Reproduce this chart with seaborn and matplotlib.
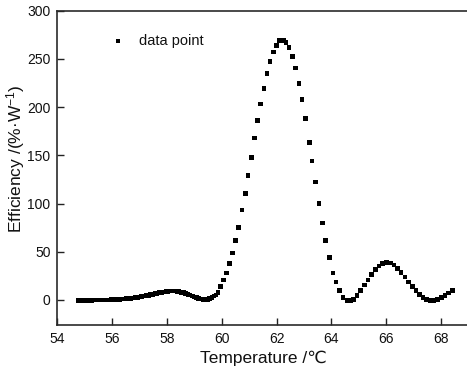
import matplotlib
matplotlib.use("Agg")
import matplotlib.pyplot as plt
import seaborn as sns
import pandas as pd

temperature = [
    54.76, 54.84, 54.92, 55.00, 55.08, 55.16, 55.24, 55.32, 55.40, 55.48,
    55.56, 55.64, 55.72, 55.80, 55.88, 55.96, 56.04, 56.12, 56.20, 56.28,
    56.36, 56.44, 56.52, 56.60, 56.68, 56.76, 56.84, 56.92, 57.00, 57.08,
    57.16, 57.24, 57.32, 57.40, 57.48, 57.56, 57.64, 57.72, 57.80, 57.88,
    57.96, 58.04, 58.12, 58.20, 58.28, 58.36, 58.44, 58.52, 58.60, 58.68,
    58.76, 58.84, 58.92, 59.00, 59.08, 59.16, 59.24, 59.32, 59.40, 59.48,
    59.56, 59.64, 59.72, 59.79, 59.86, 59.96, 60.07, 60.18, 60.28, 60.39,
    60.51, 60.62, 60.74, 60.86, 60.96, 61.08, 61.19, 61.30, 61.42, 61.54,
    61.65, 61.76, 61.88, 61.99, 62.10, 62.20, 62.27, 62.34, 62.45, 62.59,
    62.68, 62.82, 62.93, 63.05, 63.19, 63.29, 63.42, 63.55, 63.67, 63.78,
    63.92, 64.06, 64.17, 64.30, 64.43, 64.57, 64.70, 64.80, 64.93, 65.07,
    65.20, 65.34, 65.47, 65.60, 65.74, 65.87, 66.02, 66.15, 66.28, 66.41,
    66.54, 66.68, 66.82, 66.95, 67.09, 67.22, 67.35, 67.48, 67.61, 67.74,
    67.88, 68.01, 68.15, 68.28, 68.41,
]
efficiency = [
    -0.5, -0.5, -0.5, -0.4, -0.4, -0.3, -0.3, -0.2, -0.2, -0.1,
    -0.1, 0.0, 0.0, 0.1, 0.1, 0.2, 0.3, 0.4, 0.5, 0.6,
    0.8, 1.0, 1.2, 1.4, 1.7, 2.0, 2.3, 2.7, 3.1, 3.5,
    3.9, 4.4, 4.9, 5.4, 5.9, 6.4, 6.9, 7.4, 7.8, 8.2,
    8.6, 8.9, 9.1, 9.2, 9.1, 8.9, 8.5, 8.0, 7.4, 6.7,
    5.9, 5.0, 4.1, 3.2, 2.3, 1.5, 0.8, 0.3, 0.1, 0.4,
    1.2, 2.4, 3.9, 5.2, 8.0, 13.9, 20.8, 27.8, 38.0, 48.8,
    61.5, 75.3, 93.4, 110.4, 128.9, 147.6, 167.9, 186.1, 203.4, 219.5,
    234.7, 247.6, 257.3, 263.9, 268.8, 269.8, 269.1, 267.0, 261.8, 252.8,
    240.6, 224.7, 207.6, 188.2, 163.2, 144.1, 122.4, 100.3, 79.7, 61.5,
    44.0, 28.1, 18.8, 9.9, 2.8, -0.3, -0.5, 0.7, 4.9, 9.7,
    15.3, 20.8, 26.4, 31.3, 35.4, 37.5, 38.9, 38.2, 36.1, 32.6,
    28.4, 23.6, 18.8, 13.9, 9.7, 5.5, 2.8, 0.7, -0.3, -0.3,
    0.7, 2.8, 4.9, 7.0, 9.7,
]
x_ticks = [54, 56, 58, 60, 62, 64, 66, 68]
y_ticks = [0, 50, 100, 150, 200, 250, 300]

sns.set_theme(style="white")
plt.rcParams['font.family'] = ['Liberation Sans', 'DejaVu Sans']
plt.rcParams['mathtext.fontset'] = 'custom'
plt.rcParams['mathtext.rm'] = 'Liberation Sans'
plt.rcParams['mathtext.it'] = 'Liberation Sans:italic'

df = pd.DataFrame({"Temperature": temperature, "Efficiency": efficiency})

fig = plt.figure(figsize=(4.67, 3.67), dpi=100)
ax = fig.add_axes([57.4 / 467, 42 / 367, 411 / 467, (325 - 10.7) / 367])

sns.scatterplot(data=df, x="Temperature", y="Efficiency", ax=ax, marker="s",
                s=11, color="black", edgecolor="none", linewidth=0, label="data point")

ax.set_xlim(54, 69)
ax.set_ylim(-26, 300)
ax.set_xticks(x_ticks)
ax.set_yticks(y_ticks)
ax.tick_params(axis="both", direction="in", length=5, width=1, colors="#222222",
               labelsize=10, labelcolor="#111111", pad=5)
ax.tick_params(axis="x", top=False, bottom=True)
ax.tick_params(axis="y", left=True, right=False)

for side in ["left", "bottom", "top"]:
    ax.spines[side].set_color("#2a2a2a")
    ax.spines[side].set_linewidth(1.2)
ax.spines["right"].set_visible(False)

ax.set_xlabel("Temperature /℃", fontsize=12.5, color="#111111")
ax.set_ylabel("Efficiency /(%·W$^{-1}$)", fontsize=12.5, color="#111111")
ax.xaxis.set_label_coords(0.5, -0.08)
ax.yaxis.set_label_coords(-0.074, 0.53)

leg = ax.legend(loc="upper left", bbox_to_anchor=(0.098, 0.945), frameon=False,
                fontsize=10.5, handletextpad=0.4, markerscale=1.0,
                borderaxespad=0)
for t in leg.get_texts():
    t.set_color("#111111")

fig.savefig("out.png", dpi=100)
